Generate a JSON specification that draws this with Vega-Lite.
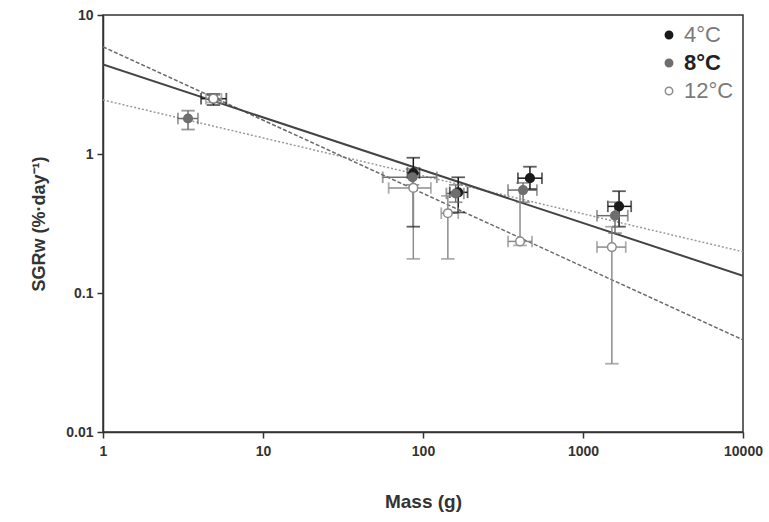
{
  "$schema": "https://vega.github.io/schema/vega-lite/v6.json",
  "width": 640,
  "height": 417,
  "autosize": "none",
  "padding": {"left": 103, "top": 15, "right": 26, "bottom": 90},
  "background": "white",
  "config": {
    "font": "Liberation Sans",
    "view": {"stroke": "#333333", "strokeWidth": 1.5},
    "axis": {
      "grid": false,
      "domainColor": "#333333",
      "domainWidth": 1.5,
      "tickColor": "#333333",
      "tickWidth": 1.5,
      "tickSize": 6,
      "labelFont": "Liberation Sans",
      "labelFontWeight": "bold",
      "labelFontSize": 14,
      "labelColor": "#333333",
      "titleFont": "Liberation Sans",
      "titleFontWeight": "bold",
      "titleFontSize": 18,
      "titleColor": "#333333"
    },
    "legend": {
      "labelFont": "Liberation Sans",
      "labelFontSize": 22,
      "labelColor": "#7a7a7a",
      "symbolSize": 55,
      "symbolStrokeWidth": 1.5,
      "symbolOpacity": 1,
      "rowPadding": 6,
      "labelOffset": 4
    }
  },
  "datasets": {
    "pts": [
      {"temp": "4°C", "mass": 4.9, "sgr": 2.5, "mlo": 4.1, "mhi": 5.9, "slo": 2.25, "shi": 2.7},
      {"temp": "4°C", "mass": 87, "sgr": 0.73, "mlo": 80, "mhi": 95, "slo": 0.3, "shi": 0.94},
      {"temp": "4°C", "mass": 166, "sgr": 0.53, "mlo": 147, "mhi": 190, "slo": 0.38, "shi": 0.68},
      {"temp": "4°C", "mass": 466, "sgr": 0.67, "mlo": 392, "mhi": 554, "slo": 0.56, "shi": 0.81},
      {"temp": "4°C", "mass": 1680, "sgr": 0.42, "mlo": 1430, "mhi": 2000, "slo": 0.3, "shi": 0.54},
      {"temp": "8°C", "mass": 3.4, "sgr": 1.8, "mlo": 2.94, "mhi": 3.92, "slo": 1.5, "shi": 2.05},
      {"temp": "8°C", "mass": 86, "sgr": 0.68, "mlo": 56, "mhi": 122, "slo": 0.6, "shi": 0.78},
      {"temp": "8°C", "mass": 160, "sgr": 0.52, "mlo": 140, "mhi": 180, "slo": 0.45, "shi": 0.6},
      {"temp": "8°C", "mass": 422, "sgr": 0.55, "mlo": 340, "mhi": 515, "slo": 0.45, "shi": 0.62},
      {"temp": "8°C", "mass": 1585, "sgr": 0.36, "mlo": 1223, "mhi": 1905, "slo": 0.27, "shi": 0.45},
      {"temp": "12°C", "mass": 4.9, "sgr": 2.5, "mlo": 4.4, "mhi": 5.5, "slo": 2.35, "shi": 2.65},
      {"temp": "12°C", "mass": 87, "sgr": 0.57, "mlo": 61, "mhi": 112, "slo": 0.176, "shi": 0.75},
      {"temp": "12°C", "mass": 143, "sgr": 0.375, "mlo": 130, "mhi": 166, "slo": 0.176, "shi": 0.5},
      {"temp": "12°C", "mass": 404, "sgr": 0.235, "mlo": 340, "mhi": 480, "slo": 0.22, "shi": 0.55},
      {"temp": "12°C", "mass": 1515, "sgr": 0.214, "mlo": 1223, "mhi": 1850, "slo": 0.031, "shi": 0.3}
    ],
    "fits": [
      {"temp": "4°C", "mass": 1, "sgr": 4.4},
      {"temp": "4°C", "mass": 10000, "sgr": 0.133},
      {"temp": "8°C", "mass": 1, "sgr": 2.45},
      {"temp": "8°C", "mass": 10000, "sgr": 0.198},
      {"temp": "12°C", "mass": 1, "sgr": 5.9},
      {"temp": "12°C", "mass": 10000, "sgr": 0.046}
    ]
  },
  "layer": [
    {
      "data": {"name": "fits"},
      "transform": [{"filter": "datum.temp === '8°C'"}],
      "mark": {"type": "line", "color": "#9a9a9a", "strokeWidth": 1.5, "strokeDash": [2, 2], "clip": true},
      "encoding": {
        "x": {"field": "mass", "type": "quantitative", "scale": {"type": "log", "domain": [1, 10000]}, "axis": {"values": [1, 10, 100, 1000, 10000], "labelExpr": "datum.value", "title": "Mass (g)", "titlePadding": 34, "labelPadding": 6, "labelFlush": false, "titleFontSize": 19}},
        "y": {"field": "sgr", "type": "quantitative", "scale": {"type": "log", "domain": [0.01, 10]}, "axis": {"values": [0.01, 0.1, 1, 10], "labelExpr": "datum.value", "title": "SGRᴡ (%·day⁻¹)", "titlePadding": 17, "labelPadding": 4, "labelFlush": false}}
      }
    },
    {
      "data": {"name": "fits"},
      "transform": [{"filter": "datum.temp === '12°C'"}],
      "mark": {"type": "line", "color": "#6a6a6a", "strokeWidth": 1.5, "strokeDash": [4, 2], "clip": true},
      "encoding": {
        "x": {"field": "mass", "type": "quantitative"},
        "y": {"field": "sgr", "type": "quantitative"}
      }
    },
    {
      "data": {"name": "fits"},
      "transform": [{"filter": "datum.temp === '4°C'"}],
      "mark": {"type": "line", "color": "#444444", "strokeWidth": 2, "clip": true},
      "encoding": {
        "x": {"field": "mass", "type": "quantitative"},
        "y": {"field": "sgr", "type": "quantitative"}
      }
    },
    {
      "data": {"name": "pts"},
      "mark": {"type": "rule", "strokeWidth": 1.5},
      "encoding": {
        "x": {"field": "mlo", "type": "quantitative"},
        "x2": {"field": "mhi"},
        "y": {"field": "sgr", "type": "quantitative"},
        "stroke": {"field": "temp", "type": "nominal"}
      }
    },
    {
      "data": {"name": "pts"},
      "mark": {"type": "rule", "strokeWidth": 1.5},
      "encoding": {
        "x": {"field": "mass", "type": "quantitative"},
        "y": {"field": "slo", "type": "quantitative"},
        "y2": {"field": "shi"},
        "stroke": {"field": "temp", "type": "nominal"}
      }
    },
    {
      "data": {"name": "pts"},
      "mark": {"type": "tick", "orient": "vertical", "size": 10, "thickness": 0.3, "filled": false, "strokeWidth": 1.5},
      "encoding": {
        "x": {"field": "mlo", "type": "quantitative"},
        "y": {"field": "sgr", "type": "quantitative"},
        "stroke": {"field": "temp", "type": "nominal"}
      }
    },
    {
      "data": {"name": "pts"},
      "mark": {"type": "tick", "orient": "vertical", "size": 10, "thickness": 0.3, "filled": false, "strokeWidth": 1.5},
      "encoding": {
        "x": {"field": "mhi", "type": "quantitative"},
        "y": {"field": "sgr", "type": "quantitative"},
        "stroke": {"field": "temp", "type": "nominal"}
      }
    },
    {
      "data": {"name": "pts"},
      "mark": {"type": "tick", "orient": "horizontal", "size": 12, "thickness": 0.3, "filled": false, "strokeWidth": 1.5},
      "encoding": {
        "x": {"field": "mass", "type": "quantitative"},
        "y": {"field": "slo", "type": "quantitative"},
        "stroke": {"field": "temp", "type": "nominal"}
      }
    },
    {
      "data": {"name": "pts"},
      "mark": {"type": "tick", "orient": "horizontal", "size": 12, "thickness": 0.3, "filled": false, "strokeWidth": 1.5},
      "encoding": {
        "x": {"field": "mass", "type": "quantitative"},
        "y": {"field": "shi", "type": "quantitative"},
        "stroke": {"field": "temp", "type": "nominal"}
      }
    },
    {
      "data": {"name": "pts"},
      "mark": {"type": "point", "shape": "circle", "size": 75, "strokeWidth": 1.5, "opacity": 1, "filled": false},
      "encoding": {
        "x": {"field": "mass", "type": "quantitative"},
        "y": {"field": "sgr", "type": "quantitative"},
        "fill": {
          "field": "temp", "type": "nominal",
          "scale": {"domain": ["4°C", "8°C", "12°C"], "range": ["#1a1a1a", "#6e6e6e", "#ffffff"]},
          "legend": {
            "title": null, "orient": "top-right", "offset": 9,
            "encode": {
              "labels": {
                "update": {
                  "text": {"signal": "datum.value === '12°C' ? datum.value + '\u2007' : '\u2007' + datum.value + '\u2007'"},
                  "fill": {"signal": "datum.value === '8°C' ? '#222222' : '#7a7a7a'"},
                  "fontWeight": {"signal": "datum.value === '8°C' ? 'bold' : 'normal'"}
                }
              }
            }
          }
        },
        "stroke": {
          "field": "temp", "type": "nominal",
          "scale": {"domain": ["4°C", "8°C", "12°C"], "range": ["#1a1a1a", "#6e6e6e", "#8c8c8c"]},
          "legend": {
            "title": null, "orient": "top-right", "offset": 9,
            "encode": {
              "labels": {
                "update": {
                  "text": {"signal": "datum.value === '12°C' ? datum.value + '\u2007' : '\u2007' + datum.value + '\u2007'"},
                  "fill": {"signal": "datum.value === '8°C' ? '#222222' : '#7a7a7a'"},
                  "fontWeight": {"signal": "datum.value === '8°C' ? 'bold' : 'normal'"}
                }
              }
            }
          }
        }
      }
    }
  ],
  "encoding": {}
}
